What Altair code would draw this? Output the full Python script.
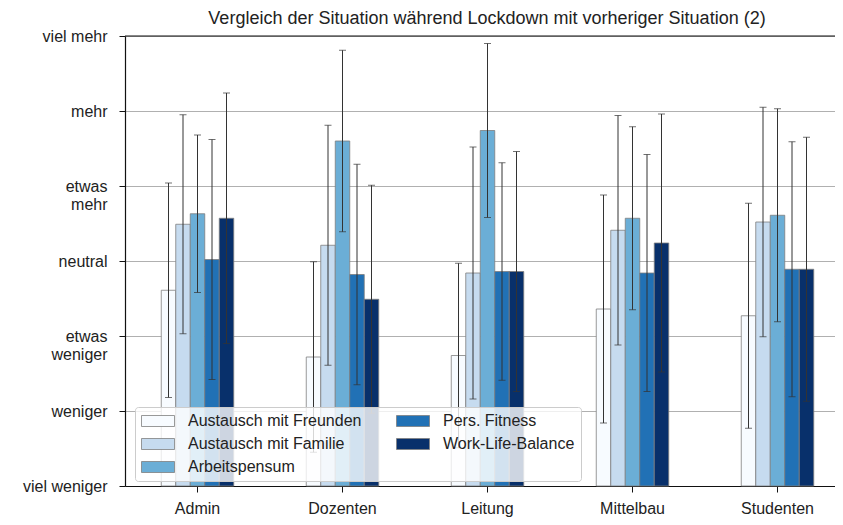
import json
import altair as alt
import pandas as pd

groups = ["Admin", "Dozenten", "Leitung", "Mittelbau", "Studenten"]
series = ["Austausch mit Freunden", "Austausch mit Familie", "Arbeitspensum",
          "Pers. Fitness", "Work-Life-Balance"]
colors = ["#f7fbff", "#c6dbef", "#6baed6", "#2171b5", "#08306b"]
levels = ["viel weniger", "weniger", "etwas\nweniger", "neutral",
          "etwas\nmehr", "mehr", "viel mehr"]
title = "Vergleich der Situation während Lockdown mit vorheriger Situation (2)"

freunde_mean = [3.61, 2.72, 2.74, 3.36, 3.27]
freunde_sd = [1.43, 1.27, 1.23, 1.52, 1.50]
familie_mean = [4.49, 4.21, 3.84, 4.41, 4.52]
familie_sd = [1.46, 1.60, 1.68, 1.53, 1.53]
arbeit_mean = [4.63, 5.60, 5.74, 4.57, 4.61]
arbeit_sd = [1.05, 1.21, 1.16, 1.22, 1.42]
fitness_mean = [4.02, 3.82, 3.86, 3.84, 3.89]
fitness_sd = [1.60, 1.47, 1.45, 1.58, 1.70]
wlb_mean = [4.57, 3.49, 3.86, 4.24, 3.89]
wlb_sd = [1.67, 1.52, 1.60, 1.72, 1.76]

means = [freunde_mean, familie_mean, arbeit_mean, fitness_mean, wlb_mean]
sds = [freunde_sd, familie_sd, arbeit_sd, fitness_sd, wlb_sd]

rows = []
for s, m_list, sd_list in zip(series, means, sds):
    for g, m, sd in zip(groups, m_list, sd_list):
        rows.append({"group": g, "series": s, "mean": m,
                     "lo": m - sd, "hi": m + sd})
df = pd.DataFrame(rows)

# y labels expression (multi-line)
expr = "''"
for i in range(len(levels) - 1, -1, -1):
    parts = levels[i].split("\n")
    lab = json.dumps(parts) if len(parts) > 1 else json.dumps(parts[0])
    expr = f"datum.value == {i + 1} ? {lab} : ({expr})"

FONT = "Liberation Sans"

x_enc = alt.X("group:N", sort=groups,
              scale=alt.Scale(rangeMax=725, paddingInner=0.5, paddingOuter=0.25),
              axis=alt.Axis(title=None, labelAngle=0, labelPadding=8,
                            grid=False))
xoff = alt.XOffset("series:N", sort=series,
                   scale=alt.Scale(paddingInner=0, paddingOuter=0))
y_scale = alt.Scale(domain=[1, 7], nice=False, zero=False)

bars = alt.Chart(df).mark_bar(stroke="#7f7f7f", strokeWidth=0.8).encode(
    x=x_enc,
    xOffset=xoff,
    y=alt.Y("mean:Q", scale=y_scale,
            axis=alt.Axis(title=None, values=list(range(1, 8)),
                          labelExpr=expr, grid=True, labelPadding=12,
                          labelLineHeight=18)),
    y2=alt.datum(1),
    color=alt.Color("series:N",
                    scale=alt.Scale(domain=series, range=colors),
                    legend=alt.Legend(
                        title=None, orient="none", legendX=10, legendY=371,
                        columns=2, symbolType="M-3,-1H3V1H-3Z", symbolSize=121,
                        symbolStrokeColor="#7f7f7f", symbolStrokeWidth=0.8,
                        symbolOffset=9, labelOffset=22,
                        labelFontSize=16, labelFont=FONT, labelColor="#222222",
                        labelLimit=400, fillColor="rgba(255,255,255,0.8)",
                        strokeColor="#cccccc", cornerRadius=3, padding=6,
                        rowPadding=7, columnPadding=32)),
)

err = alt.Chart(df).mark_rule(color="#333333", strokeWidth=1).encode(
    x=x_enc, xOffset=xoff,
    y=alt.Y("lo:Q", scale=y_scale), y2="hi:Q")

cap_lo = alt.Chart(df).mark_tick(color="#333333", thickness=1, size=7).encode(
    x=x_enc, xOffset=xoff, y=alt.Y("lo:Q", scale=y_scale))
cap_hi = alt.Chart(df).mark_tick(color="#333333", thickness=1, size=7).encode(
    x=x_enc, xOffset=xoff, y=alt.Y("hi:Q", scale=y_scale))

top = alt.Chart(pd.DataFrame({"v": [7]})).mark_rule(
    color="#111111", strokeWidth=1.2).encode(y=alt.Y("v:Q", scale=y_scale))

chart = alt.layer(bars, err, cap_lo, cap_hi, top).properties(
    width=710, height=450,
    title=alt.TitleParams(title, fontSize=18, font=FONT, fontWeight="normal",
                          color="#222222", offset=0, anchor="middle",
                          frame="group", dx=7),
    autosize=alt.AutoSizeParams(type="none"),
    padding={"left": 117, "top": 28, "right": 0, "bottom": 31},
).configure_view(stroke=None).configure_axis(
    labelFont=FONT, labelFontSize=16, labelColor="#222222",
    domainColor="#111111", domainWidth=1.2, tickColor="#111111",
    tickSize=6, gridColor="#b0b0b0", gridWidth=1,
)

chart.save("out.html", embed_options={"renderer": "svg", "actions": False})
